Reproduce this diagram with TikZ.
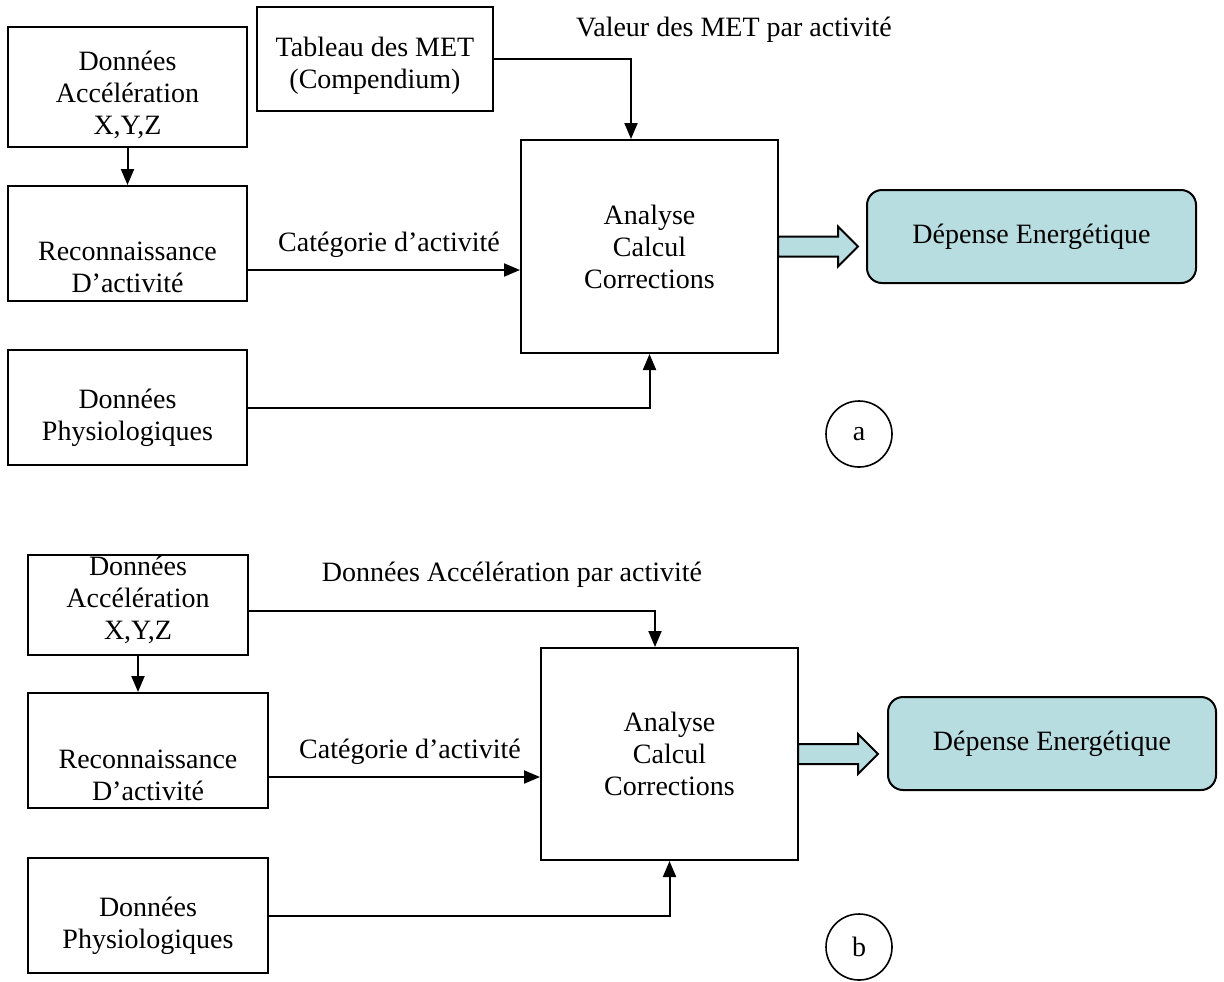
\documentclass[tikz,border=0pt]{standalone}
\usepackage{fontspec}
\setmainfont{Liberation Serif}
\usetikzlibrary{arrows.meta,calc}
\definecolor{bleuDep}{RGB}{183,221,224}
% cale verticale pour descendre ou monter le texte dans une boite
\newcommand{\calehaut}[1]{\rule{0pt}{#1}}
\newcommand{\calebas}[1]{\rule[-#1]{0pt}{0pt}}

\begin{document}
\begin{tikzpicture}[x=0.5pt,y=-0.5pt,
    every node/.style={font=\fontsize{14}{16}\selectfont},
    boite/.style={draw,line width=1pt,align=center,inner sep=0pt},
    resultat/.style={boite,rounded corners=7.5pt,fill=bleuDep},
    lettre/.style={draw,circle,line width=0.8pt,minimum size=33pt,inner sep=0pt},
    etiq/.style={inner sep=0pt},
    fleche/.style={line width=1pt,-{Triangle[length=8pt,width=6.5pt]}},
    creuse/.style={draw,line width=1pt,fill=bleuDep,line join=miter}]
        \clip (0,0) rectangle (1224,981);

        % --- partie a ---
        \node[boite,minimum width=119.5pt,minimum height=60pt] (accA) at (127.5,87) {\calehaut{17.5pt}Données\\Accélération\\X,Y,Z};
        \node[boite,minimum width=118pt,minimum height=52pt] (tabA) at (375,59) {\calehaut{16.5pt}Tableau des MET\\(Compendium)};
        \node[boite,minimum width=119.5pt,minimum height=57.5pt] (recoA) at (127.5,243.5) {\calehaut{33pt}Reconnaissance\\D’activité};
        \node[boite,minimum width=119.5pt,minimum height=57.5pt] (physA) at (127.5,407.5) {\calehaut{20.5pt}Données\\Physiologiques};
        \node[resultat,minimum width=164.5pt,minimum height=46.5pt] (depA) at (1031.5,236.5) {Dépense Energétique};
        \draw[creuse] ($(778,246.5)+(0,-10)$) -- ++(60,0) -- ++(0,-10) -- ++(20,20) -- ++(-20,20) -- ++(0,-10) -- ++(-60,0) -- cycle;
        \node[boite,fill=white,minimum width=128.5pt,minimum height=106.5pt] (anaA) at (649.5,246.5) {Analyse\\Calcul\\Corrections};
        \node[lettre] (circA) at (859,434) {a};

        \node[etiq] (valA) at (734,30) {Valeur des MET par activité};
        \node[etiq] (catA) at (389,245) {Catégorie d’activité};

        \coordinate (yCatA) at (0,270);
        \draw[fleche] (accA) -- (recoA);
        \draw[fleche] (tabA.east) -| ($(anaA.north west)+(111,0)$);
        \draw[fleche] (recoA.east |- yCatA) -- (anaA.west |- yCatA);
        \draw[fleche] (physA.east) -| (anaA.south);

        % --- partie b ---
        \node[boite,minimum width=110pt,minimum height=50pt] (accB) at (138,605) {Données\\Accélération\\X,Y,Z\calebas{7.5pt}};
        \node[boite,minimum width=120pt,minimum height=57.5pt] (recoB) at (148,750.5) {\calehaut{34pt}Reconnaissance\\D’activité};
        \node[boite,minimum width=120pt,minimum height=57.5pt] (physB) at (148,915.5) {\calehaut{19.5pt}Données\\Physiologiques};
        \node[resultat,minimum width=164pt,minimum height=46.5pt] (depB) at (1052,743.5) {Dépense Energétique};
        \draw[creuse] ($(798,754)+(0,-10)$) -- ++(60,0) -- ++(0,-10) -- ++(20,20) -- ++(-20,20) -- ++(0,-10) -- ++(-60,0) -- cycle;
        \node[boite,fill=white,minimum width=128.5pt,minimum height=106pt] (anaB) at (669.5,754) {Analyse\\Calcul\\Corrections};
        \node[lettre] (circB) at (859,947) {b};

        \node[etiq] (donB) at (512,575) {Données Accélération par activité};
        \node[etiq] (catB) at (410,752) {Catégorie d’activité};

        \coordinate (yAccB) at (0,611);
        \coordinate (xAccB) at (655,0);
        \coordinate (yCatB) at (0,777);
        \draw[fleche] (accB.south) -- (accB.south |- recoB.north);
        \draw[fleche] (accB.east |- yAccB) -| (xAccB |- anaB.north);
        \draw[fleche] (recoB.east |- yCatB) -- (anaB.west |- yCatB);
        \draw[fleche] (physB.east) -| (anaB.south);

    \end{tikzpicture}
\end{document}
